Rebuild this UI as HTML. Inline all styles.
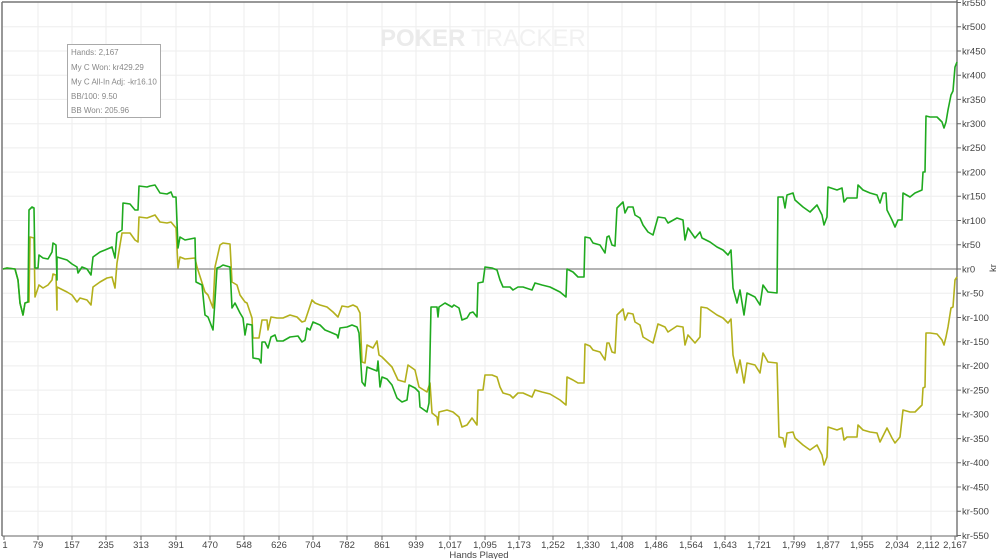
<!DOCTYPE html>
<html><head><meta charset="utf-8"><style>
html,body{margin:0;padding:0;background:#fff;}
svg{display:block;font-family:"Liberation Sans",sans-serif;}
.yl{font-size:9.5px;fill:#444;}
.xl{font-size:9.5px;fill:#444;text-anchor:middle;}
.lg{font-size:8px;fill:#888;}
</style></head><body>
<svg width="1000" height="559" viewBox="0 0 1000 559" xmlns="http://www.w3.org/2000/svg">
<rect x="0" y="0" width="1000" height="559" fill="#fff"/>
<g stroke="#eeeeee" stroke-width="1">
<path d="M2 26.8H957M2 51H957M2 75.2H957M2 99.4H957M2 123.7H957M2 147.9H957M2 172.1H957M2 196.3H957M2 220.5H957M2 244.8H957M2 293.2H957M2 317.5H957M2 341.7H957M2 365.9H957M2 390.1H957M2 414.4H957M2 438.6H957M2 462.8H957M2 487H957M2 511.3H957"/>
<path d="M38 2V536M72 2V536M106 2V536M141 2V536M176 2V536M210 2V536M244 2V536M279 2V536M313 2V536M347 2V536M382 2V536M416 2V536M450 2V536M485 2V536M519 2V536M553 2V536M588 2V536M622 2V536M656 2V536M691 2V536M725 2V536M759 2V536M794 2V536M828 2V536M862 2V536M897 2V536M931 2V536"/>
</g>
<text x="380" y="46" font-size="24" font-weight="bold" fill="#ebebeb">POKER</text>
<text x="471" y="46" font-size="24" fill="#f1f1f1">TRACKER</text>
<path d="M2 2H957M2 2V536" stroke="#777" stroke-width="1.5" fill="none"/>
<line x1="2" y1="269" x2="957" y2="269" stroke="#888" stroke-width="1.3"/>
<line x1="957" y1="0" x2="957" y2="537" stroke="#666" stroke-width="1.3"/>
<path d="M2 536H957" stroke="#666" stroke-width="1"/>
<g stroke="#666" stroke-width="1">
<path d="M957 2.5h4M957 26.8h4M957 51h4M957 75.2h4M957 99.4h4M957 123.7h4M957 147.9h4M957 172.1h4M957 196.3h4M957 220.5h4M957 244.8h4M957 269h4M957 293.2h4M957 317.5h4M957 341.7h4M957 365.9h4M957 390.1h4M957 414.4h4M957 438.6h4M957 462.8h4M957 487h4M957 511.3h4M957 535.5h4"/>
<path d="M4 536v4M38 536v4M72 536v4M106 536v4M141 536v4M176 536v4M210 536v4M244 536v4M279 536v4M313 536v4M347 536v4M382 536v4M416 536v4M450 536v4M485 536v4M519 536v4M553 536v4M588 536v4M622 536v4M656 536v4M691 536v4M725 536v4M759 536v4M794 536v4M828 536v4M862 536v4M897 536v4M931 536v4M955 536v4"/>
</g>
<g class="yl">
<text x="962" y="6">kr550</text><text x="962" y="30">kr500</text><text x="962" y="54.5">kr450</text><text x="962" y="78.5">kr400</text><text x="962" y="103">kr350</text><text x="962" y="127">kr300</text><text x="962" y="151">kr250</text><text x="962" y="175.5">kr200</text><text x="962" y="199.5">kr150</text><text x="962" y="224">kr100</text><text x="962" y="248">kr50</text><text x="962" y="272.5">kr0</text><text x="962" y="296.5">kr-50</text><text x="962" y="321">kr-100</text><text x="962" y="345">kr-150</text><text x="962" y="369">kr-200</text><text x="962" y="393.5">kr-250</text><text x="962" y="417.5">kr-300</text><text x="962" y="442">kr-350</text><text x="962" y="466">kr-400</text><text x="962" y="490.5">kr-450</text><text x="962" y="514.5">kr-500</text><text x="962" y="539">kr-550</text>
</g>
<text x="0" y="0" class="yl" transform="translate(996,268) rotate(-90)" text-anchor="middle">kr</text>
<g class="xl">
<text x="5" y="548">1</text><text x="38" y="548">79</text><text x="72" y="548">157</text><text x="106" y="548">235</text><text x="141" y="548">313</text><text x="176" y="548">391</text><text x="210" y="548">470</text><text x="244" y="548">548</text><text x="279" y="548">626</text><text x="313" y="548">704</text><text x="347" y="548">782</text><text x="382" y="548">861</text><text x="416" y="548">939</text><text x="450" y="548">1,017</text><text x="485" y="548">1,095</text><text x="519" y="548">1,173</text><text x="553" y="548">1,252</text><text x="588" y="548">1,330</text><text x="622" y="548">1,408</text><text x="656" y="548">1,486</text><text x="691" y="548">1,564</text><text x="725" y="548">1,643</text><text x="759" y="548">1,721</text><text x="794" y="548">1,799</text><text x="828" y="548">1,877</text><text x="862" y="548">1,955</text><text x="897" y="548">2,034</text><text x="928" y="548">2,112</text><text x="955" y="548">2,167</text>
<text x="479" y="558">Hands Played</text>
</g>
<polyline fill="none" stroke="#b3b01c" stroke-width="1.6" stroke-linejoin="round" points="3,269 7,268 15,269 18,280 20,303 23,315 25,303 28,302 29,302 30,237 34,238 35,297 39,285 43,288 48,285 52,280 53,274 56,275 57,310 57,287 67,292 72,295 77,302 80,298 87,300 91,305 93,287 100,282 107,278 112,277 115,288 117,263 122,233 130,233 135,240 138,242 139,217 147,218 155,215 160,222 167,223 171,222 176,228 178,268 180,257 185,259 195,258 197,267 205,292 208,295 213,308 215,267 220,245 223,243 230,244 232,282 237,285 240,295 245,302 247,303 252,318 253,338 259,338 262,320 267,320 268,330 271,317 277,318 283,318 290,315 297,317 302,322 305,321 312,300 315,303 320,305 327,307 333,312 338,317 342,306 348,307 353,305 357,307 360,313 362,362 365,363 367,345 373,348 377,341 379,355 382,357 387,362 392,367 398,380 405,382 408,365 415,370 419,387 427,392 430,383 432,413 437,417 438,425 439,412 447,410 453,412 459,417 462,427 467,425 472,418 477,425 478,390 483,390 485,375 492,375 497,377 500,387 503,393 510,395 513,398 518,393 523,393 532,397 535,390 542,392 550,394 560,400 566,405 567,377 573,380 578,383 584,383 585,344 590,346 593,350 600,352 605,360 607,343 609,343 612,352 615,353 617,315 623,309 625,320 628,313 633,314 635,322 640,325 643,337 648,340 653,343 658,324 665,327 668,332 677,326 683,327 685,345 688,335 695,343 700,337 701,307 707,308 717,315 723,318 728,323 731,319 733,355 737,373 740,360 744,383 747,363 755,365 760,373 763,353 768,362 777,363 779,437 783,438 785,447 787,433 793,432 795,438 803,445 810,450 817,445 822,455 824,465 827,457 828,427 837,430 842,428 844,440 847,437 857,437 858,425 863,430 870,432 877,433 880,442 887,428 892,438 895,443 900,437 903,410 910,412 915,412 922,405 923,388 925,387 926,333 930,333 937,334 942,340 944,345 946,337 948,327 951,308 953,307 955,280 957,277"/>
<polyline fill="none" stroke="#1faa1f" stroke-width="1.6" stroke-linejoin="round" points="3,269 7,268 15,269 18,280 20,303 23,315 25,303 28,302 29,210 32,207 34,208 35,268 38,268 39,255 43,258 48,259 52,252 53,243 56,245 57,280 57,257 67,260 72,264 77,267 78,273 82,267 87,269 91,275 93,257 100,252 105,250 112,247 115,258 117,233 122,230 123,203 130,204 135,210 138,210 139,186 147,187 150,186 155,185 160,193 167,194 171,192 173,197 176,197 178,248 180,237 185,240 195,238 196,282 202,285 205,315 208,317 213,330 215,300 217,268 220,267 223,265 230,267 232,308 235,303 240,313 243,318 245,335 247,324 252,325 253,358 259,359 261,363 262,342 265,342 268,348 271,337 275,335 277,341 283,341 290,337 298,336 302,342 305,340 307,328 310,330 313,322 320,325 325,330 330,332 337,335 338,338 340,328 347,327 352,325 357,327 359,333 362,382 365,386 367,367 372,369 377,371 378,361 380,387 382,377 387,379 392,385 397,398 402,402 407,400 409,385 415,388 419,392 420,407 427,412 429,403 431,307 437,307 438,317 439,307 445,303 452,307 454,305 459,308 462,320 467,318 470,313 473,312 477,317 478,283 483,282 485,267 492,268 497,270 500,280 503,287 510,287 513,290 518,287 523,287 532,290 535,283 542,285 550,287 560,292 566,297 567,269 573,272 578,277 584,277 585,237 590,238 593,243 600,245 605,253 607,237 609,236 612,245 615,246 617,208 623,202 625,213 628,207 633,207 635,215 640,218 643,225 648,232 653,235 658,217 665,218 668,223 677,218 683,220 685,240 688,228 695,238 700,232 702,238 710,242 717,247 723,250 728,255 731,250 733,288 737,303 740,290 744,315 747,293 755,297 760,305 763,285 768,292 777,293 778,197 783,197 785,208 787,195 793,193 795,200 803,207 810,212 817,205 822,215 824,225 827,217 828,187 837,190 842,188 844,202 847,198 857,198 858,185 863,190 870,193 877,195 880,203 883,193 886,193 887,210 892,220 895,227 898,220 902,220 903,193 910,197 915,193 922,190 923,172 925,172 926,116 930,117 937,117 942,122 944,128 946,122 948,110 951,95 953,91 955,67 957,62"/>
<rect x="67.5" y="44.5" width="93" height="73" fill="#fff" stroke="#aaa" stroke-width="1"/>
<g class="lg">
<text x="71" y="55">Hands: 2,167</text>
<text x="71" y="70">My C Won: kr429.29</text>
<text x="71" y="84.5">My C All-In Adj: -kr16.10</text>
<text x="71" y="99">BB/100: 9.50</text>
<text x="71" y="113">BB Won: 205.96</text>
</g>
</svg>
</body></html>
